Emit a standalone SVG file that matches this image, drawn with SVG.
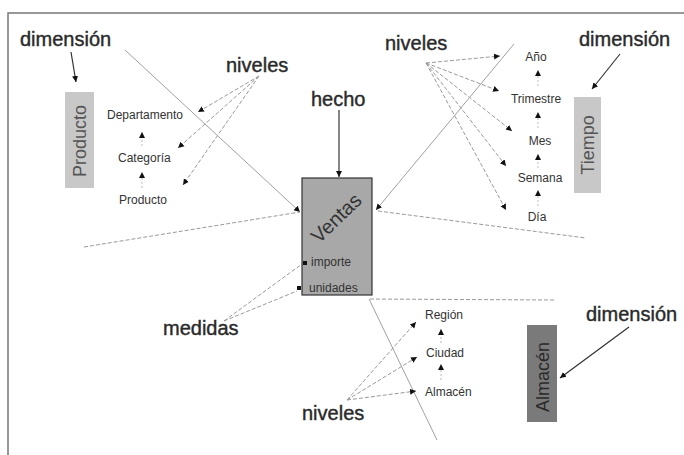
<svg xmlns="http://www.w3.org/2000/svg" width="684" height="455" viewBox="0 0 684 455">
<style>
text{font-family:"Liberation Sans",Arial,sans-serif}
.big{font-size:20px;fill:#2a2a2a;stroke:#2a2a2a;stroke-width:0.4}
.lvl{font-size:12px;fill:#333}
.dim{font-size:18px}
.dash{stroke:#9a9a9a;stroke-width:1;stroke-dasharray:4 2;fill:none}
.thin{stroke:#a0a0a0;stroke-width:1;fill:none}
.dark{stroke:#333;stroke-width:1.2;fill:none}
.up{stroke:#bbb;stroke-width:1;stroke-dasharray:2 2;fill:none}
</style>
<defs>
<marker id="ah" markerUnits="userSpaceOnUse" markerWidth="7" markerHeight="7" refX="6" refY="3.5" orient="auto">
<path d="M0,0.5 L6,3.5 L0,6.5 z" fill="#111"/>
</marker>
</defs>
<rect x="0" y="0" width="684" height="455" fill="#fff"/>
<path d="M8,455 V13 H684" stroke="#777" stroke-width="1.5" fill="none"/>

<g id="connectors">
<path class="dark" d="M71,52 L76,82" marker-end="url(#ah)"/>
<path class="dark" d="M620,54 L592,89" marker-end="url(#ah)"/>
<path class="dark" d="M629,327 L560,378" marker-end="url(#ah)"/>
<path class="dark" d="M339,110 L339,177" marker-end="url(#ah)"/>
<path class="dash" d="M259,76 L198,112" marker-end="url(#ah)"/>
<path class="dash" d="M259,76 L178,148" marker-end="url(#ah)"/>
<path class="dash" d="M259,76 L183,185" marker-end="url(#ah)"/>
<path class="thin" d="M125,50 L300,212" marker-end="url(#ah)"/>
<path class="dash" d="M84,247 L300,212"/>
<path class="dash" d="M426,63 L500,56" marker-end="url(#ah)"/>
<path class="dash" d="M426,63 L499,91" marker-end="url(#ah)"/>
<path class="dash" d="M426,63 L512,131" marker-end="url(#ah)"/>
<path class="dash" d="M426,63 L506,166" marker-end="url(#ah)"/>
<path class="dash" d="M426,63 L506,210" marker-end="url(#ah)"/>
<path class="thin" d="M514,44 L376,210" marker-end="url(#ah)"/>
<path class="dash" d="M378,211 L586,238"/>
<path class="dash" d="M370,299 L554,300"/>
<path class="thin" d="M369,299 L437,440"/>
<path class="dash" d="M347,400 L416,322" marker-end="url(#ah)"/>
<path class="dash" d="M347,400 L417,357" marker-end="url(#ah)"/>
<path class="dash" d="M347,400 L416,391" marker-end="url(#ah)"/>
<path class="dash" d="M224,321 L302,264"/>
<path class="dash" d="M224,321 L297,291"/>
<path class="up" d="M142,146 L142,132" marker-end="url(#ah)"/>
<path class="up" d="M142,188 L142,172" marker-end="url(#ah)"/>
<path class="up" d="M538,86 L538,70" marker-end="url(#ah)"/>
<path class="up" d="M538,128 L538,112" marker-end="url(#ah)"/>
<path class="up" d="M538,168 L538,154" marker-end="url(#ah)"/>
<path class="up" d="M538,206 L538,190" marker-end="url(#ah)"/>
<path class="up" d="M441,343 L441,329" marker-end="url(#ah)"/>
<path class="up" d="M441,380 L441,364" marker-end="url(#ah)"/>
</g>

<g id="labels">
<text class="big" x="20" y="46">dimensión</text>
<text class="big" x="226" y="72">niveles</text>
<text class="big" x="311" y="106">hecho</text>
<text class="big" x="385" y="50">niveles</text>
<text class="big" x="579" y="46">dimensión</text>
<text class="big" x="163" y="335">medidas</text>
<text class="big" x="302" y="420">niveles</text>
<text class="big" x="586" y="321">dimensión</text>
</g>

<g id="producto">
<rect x="65" y="92" width="29" height="96" fill="#c8c8c8"/>
<text class="dim" fill="#555" text-anchor="middle" transform="translate(86,141) rotate(-90)">Producto</text>
</g>
<g id="tiempo">
<rect x="574" y="97" width="27" height="96" fill="#c8c8c8"/>
<text class="dim" fill="#555" text-anchor="middle" transform="translate(594,145) rotate(-90)">Tiempo</text>
</g>
<g id="almacen-dim">
<rect x="527" y="325" width="30" height="97" fill="#7a7a7a"/>
<text class="dim" fill="#2a2a2a" text-anchor="middle" transform="translate(549,377) rotate(-90)">Almacén</text>
</g>
<g id="ventas">
<rect x="302" y="178" width="70" height="117" fill="#a8a8a8" stroke="#333" stroke-width="1.2"/>
<text font-size="20" fill="#333" text-anchor="middle" transform="translate(341,223) rotate(-44)">Ventas</text>
<rect x="303" y="261" width="4" height="4" fill="#111"/>
<text class="lvl" x="311" y="266" fill="#222">importe</text>
<rect x="297" y="286" width="4" height="4" fill="#111"/>
<text class="lvl" x="309" y="292" fill="#222">unidades</text>
</g>

<g id="producto-levels">
<text class="lvl" x="107" y="119">Departamento</text>
<text class="lvl" x="118" y="162">Categoría</text>
<text class="lvl" x="119" y="204">Producto</text>
</g>
<g id="tiempo-levels">
<text class="lvl" x="536" y="61" text-anchor="middle">Año</text>
<text class="lvl" x="536" y="103" text-anchor="middle">Trimestre</text>
<text class="lvl" x="540" y="145" text-anchor="middle">Mes</text>
<text class="lvl" x="540" y="182" text-anchor="middle">Semana</text>
<text class="lvl" x="537" y="221" text-anchor="middle">Día</text>
</g>
<g id="almacen-levels">
<text class="lvl" x="425" y="319">Región</text>
<text class="lvl" x="426" y="357">Ciudad</text>
<text class="lvl" x="425" y="396">Almacén</text>
</g>
</svg>
